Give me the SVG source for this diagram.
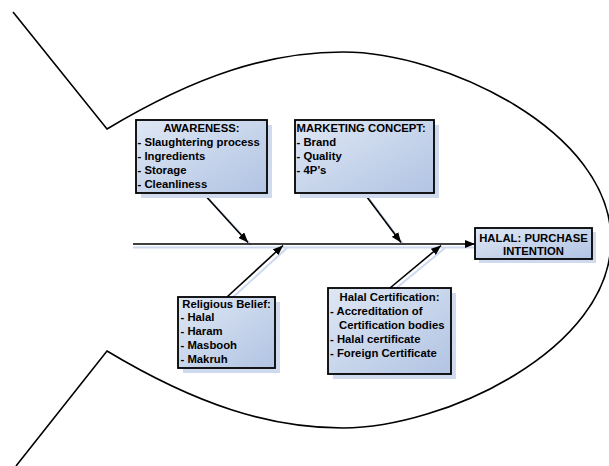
<svg xmlns="http://www.w3.org/2000/svg" width="609" height="466" viewBox="0 0 609 466">
<defs>
<linearGradient id="bg" x1="0" y1="0" x2="1" y2="1">
<stop offset="0" stop-color="#dfe7f4"/>
<stop offset="1" stop-color="#b1c4e3"/>
</linearGradient>
<marker id="ah" markerWidth="11" markerHeight="8" refX="10" refY="4" orient="auto" markerUnits="userSpaceOnUse">
<path d="M0,0 L10,4 L0,8 Z" fill="#000"/>
</marker>
</defs>
<style>
.fish{fill:none;stroke:#000;stroke-width:1.6}
.box{fill:url(#bg);stroke:#000;stroke-width:1.8}
.sh{fill:#cfdaee}
.ln{stroke:#000;stroke-width:1.6;fill:none}
.lsh{stroke:#cdd9ee;stroke-width:2;fill:none}
text{font-family:"Liberation Sans",Arial,sans-serif;font-weight:bold;font-size:11.3px;fill:#000}
.c{text-anchor:middle}
</style>
<path class="fish" d="M13,12 L107,129 C197,75 270,52 343,52 C443,52 611,130 611,240 C611,350 443,428 343,428 C270,428 197,405 107,351 L16,466"/>
<g id="connectors">
<line class="lsh" x1="133" y1="247.5" x2="475" y2="247.5"/>
<line class="lsh" x1="206" y1="196" x2="251" y2="245"/>
<line class="lsh" x1="367" y1="196" x2="404" y2="245"/>
<line class="lsh" x1="231" y1="299" x2="287" y2="248"/>
<line class="lsh" x1="394" y1="290" x2="445" y2="248"/>
<line class="ln" x1="133" y1="244" x2="475" y2="244" marker-end="url(#ah)"/>
<line class="ln" x1="203" y1="193" x2="248" y2="242.5" marker-end="url(#ah)"/>
<line class="ln" x1="364" y1="193" x2="401" y2="242.5" marker-end="url(#ah)"/>
<line class="ln" x1="227" y1="297" x2="283" y2="245.5" marker-end="url(#ah)"/>
<line class="ln" x1="390" y1="288" x2="441" y2="245.5" marker-end="url(#ah)"/>
</g>
<g id="awareness">
<rect class="sh" x="141" y="125" width="131" height="73"/>
<rect class="box" x="136" y="120" width="131" height="73"/>
<text class="c" x="201.5" y="132.3">AWARENESS:</text>
<text x="137.5" y="146.3">- Slaughtering process</text>
<text x="137.5" y="160.3">- Ingredients</text>
<text x="137.5" y="174.3">- Storage</text>
<text x="137.5" y="188.3">- Cleanliness</text>
</g>
<g id="marketing">
<rect class="sh" x="300" y="125" width="139" height="73"/>
<rect class="box" x="295" y="120" width="139" height="73"/>
<text x="296.5" y="132.3">MARKETING CONCEPT:</text>
<text x="296.5" y="146.3">- Brand</text>
<text x="296.5" y="160.3">- Quality</text>
<text x="296.5" y="174.3">- 4P’s</text>
</g>
<g id="religious">
<rect class="sh" x="183" y="302" width="97" height="71"/>
<rect class="box" x="178" y="297" width="97" height="71"/>
<text class="c" x="226.5" y="307.5">Religious Belief:</text>
<text x="180.5" y="321.3">- Halal</text>
<text x="180.5" y="335.1">- Haram</text>
<text x="180.5" y="348.9">- Masbooh</text>
<text x="180.5" y="362.7">- Makruh</text>
</g>
<g id="certification">
<rect class="sh" x="333" y="293" width="123" height="86"/>
<rect class="box" x="328" y="288" width="123" height="86"/>
<text class="c" x="389.5" y="300.5">Halal Certification:</text>
<text x="330" y="314.5">- Accreditation of</text>
<text x="339" y="328.5">Certification bodies</text>
<text x="330" y="342.5">- Halal certificate</text>
<text x="330" y="356.5">- Foreign Certificate</text>
</g>
<g id="intention">
<rect class="sh" x="479" y="232" width="117" height="31"/>
<rect class="box" x="475" y="228" width="117" height="31"/>
<text class="c" x="533.5" y="241.5">HALAL: PURCHASE</text>
<text class="c" x="533.5" y="254.5">INTENTION</text>
</g>
</svg>
